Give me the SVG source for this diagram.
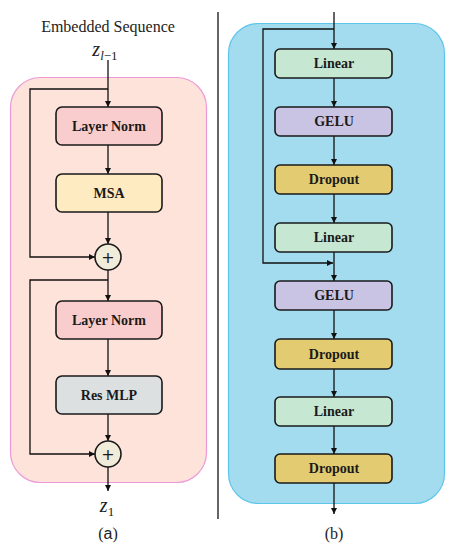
<svg xmlns="http://www.w3.org/2000/svg" width="454" height="550" viewBox="0 0 454 550">
<defs>
<marker id="ah" viewBox="0 0 10 10" refX="10" refY="5" markerWidth="6" markerHeight="6" markerUnits="userSpaceOnUse" orient="auto"><path d="M0,0 L10,5 L0,10 z" fill="#111"/></marker>
<style>
.box{stroke:#1a1a1a;stroke-width:1.6}
.lbl{font-family:"Liberation Serif","Times New Roman",serif;font-weight:bold;font-size:14px;fill:#1a1a1a;text-anchor:middle}
.cap{font-family:"Liberation Serif","Times New Roman",serif;font-size:16px;fill:#222;text-anchor:middle}
.math{font-family:"Liberation Serif",serif;font-style:italic;fill:#222;text-anchor:middle}
.plus{font-family:"DejaVu Sans",sans-serif;font-size:16px;fill:#1a1a1a;text-anchor:middle}
.ln2{fill:none;stroke:#111;stroke-width:1.3;marker-end:url(#ah)}
.ln3{stroke:#111;stroke-width:1.3;marker-end:url(#ah)}
</style>
</defs>
<rect width="454" height="550" fill="#fff"/>
<g id="panelA">
<rect x="10.5" y="77.5" width="196" height="405" rx="30" fill="#fde3da" stroke="#ec9ad6" stroke-width="1.2"/>
</g>
<g id="panelB">
<rect x="228.5" y="23.5" width="216" height="480" rx="30" fill="#a3dcef" stroke="#5ec5ea" stroke-width="1.2"/>
</g>
<line x1="218" y1="12" x2="218" y2="519" stroke="#111" stroke-width="1.3"/>
<text class="cap" x="108" y="32">Embedded Sequence</text>
<text class="math" x="105" y="56" font-size="20">z<tspan font-size="13" dy="4">l</tspan><tspan font-size="13" font-style="normal">−1</tspan></text>
<text class="math" x="107" y="512" font-size="20">z<tspan font-size="13" dy="4" font-style="normal">1</tspan></text>
<text class="cap" x="108" y="539" font-size="17">(<tspan font-family="Liberation Sans">a</tspan>)</text>
<text class="cap" x="334" y="539" font-size="17">(b)</text>
<g id="connectors">
<line class="ln3" x1="108" y1="60" x2="108" y2="107"/>
<polyline class="ln2" points="108,89 30,89 30,257 95,257"/>
<line class="ln3" x1="108" y1="145" x2="108" y2="174"/>
<line class="ln3" x1="108" y1="212" x2="108" y2="244"/>
<line class="ln3" x1="108" y1="270" x2="108" y2="301"/>
<polyline class="ln2" points="108,280 30,280 30,454 95,454"/>
<line class="ln3" x1="108" y1="339" x2="108" y2="376"/>
<line class="ln3" x1="108" y1="414" x2="108" y2="441"/>
<line class="ln3" x1="108" y1="467" x2="108" y2="491"/>
<line class="ln3" x1="334" y1="12" x2="334" y2="49"/>
<polyline class="ln2" points="334,29 263,29 263,263 333,263"/>
<line class="ln3" x1="334" y1="78" x2="334" y2="107"/>
<line class="ln3" x1="334" y1="136" x2="334" y2="165"/>
<line class="ln3" x1="334" y1="194" x2="334" y2="223"/>
<line class="ln3" x1="334" y1="252" x2="334" y2="281"/>
<line class="ln3" x1="334" y1="310" x2="334" y2="339"/>
<line class="ln3" x1="334" y1="369" x2="334" y2="397"/>
<line class="ln3" x1="334" y1="426" x2="334" y2="454"/>
<line class="ln3" x1="334" y1="483" x2="334" y2="514"/>
</g>
<g id="layernorm1"><rect class="box" x="56" y="107" width="106" height="38" rx="6" fill="#f9cdcd"/><text class="lbl" x="109" y="131">Layer Norm</text></g>
<g id="msa"><rect class="box" x="56" y="174" width="106" height="38" rx="6" fill="#feebc2"/><text class="lbl" x="109" y="198">MSA</text></g>
<g id="add1"><circle class="box" cx="108" cy="257" r="13" fill="#f1ecd9"/><text class="plus" x="108" y="263">+</text></g>
<g id="layernorm2"><rect class="box" x="56" y="301" width="106" height="38" rx="6" fill="#f9cdcd"/><text class="lbl" x="109" y="325">Layer Norm</text></g>
<g id="resmlp"><rect class="box" x="56" y="376" width="106" height="38" rx="6" fill="#dde0e1"/><text class="lbl" x="109" y="400">Res MLP</text></g>
<g id="add2"><circle class="box" cx="108" cy="454" r="13" fill="#f1ecd9"/><text class="plus" x="108" y="460">+</text></g>
<g id="linear1"><rect class="box" x="275" y="49" width="117" height="29" rx="5" fill="#c6e8d2"/><text class="lbl" x="334" y="68">Linear</text></g>
<g id="gelu1"><rect class="box" x="275" y="107" width="117" height="29" rx="5" fill="#cac4e4"/><text class="lbl" x="334" y="126">GELU</text></g>
<g id="dropout1"><rect class="box" x="275" y="165" width="117" height="29" rx="5" fill="#e2cb70"/><text class="lbl" x="334" y="184">Dropout</text></g>
<g id="linear2"><rect class="box" x="275" y="223" width="117" height="29" rx="5" fill="#c6e8d2"/><text class="lbl" x="334" y="242">Linear</text></g>
<g id="gelu2"><rect class="box" x="275" y="281" width="117" height="29" rx="5" fill="#cac4e4"/><text class="lbl" x="334" y="300">GELU</text></g>
<g id="dropout2"><rect class="box" x="275" y="339" width="117" height="30" rx="5" fill="#e2cb70"/><text class="lbl" x="334" y="359">Dropout</text></g>
<g id="linear3"><rect class="box" x="275" y="397" width="117" height="29" rx="5" fill="#c6e8d2"/><text class="lbl" x="334" y="416">Linear</text></g>
<g id="dropout3"><rect class="box" x="275" y="454" width="117" height="29" rx="5" fill="#e2cb70"/><text class="lbl" x="334" y="473">Dropout</text></g>
</svg>
